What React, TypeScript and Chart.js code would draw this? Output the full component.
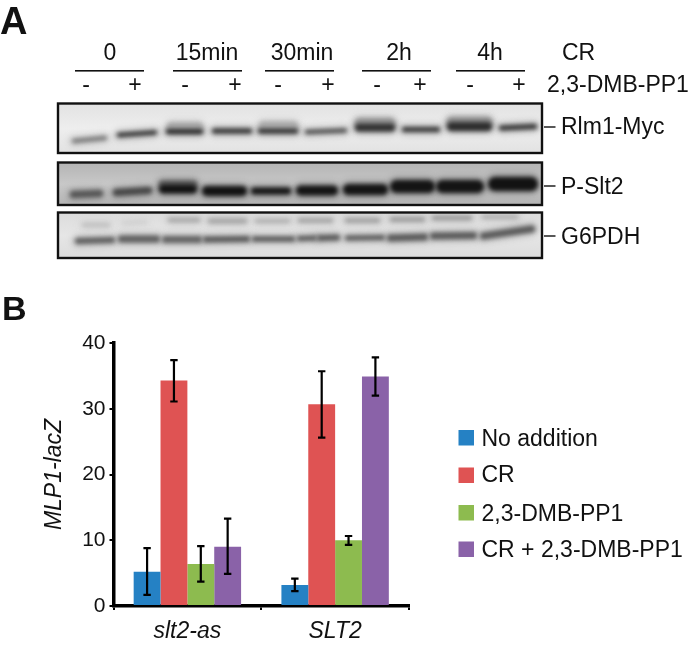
import React, { useEffect, useRef } from "react";
import { Chart, registerables } from "chart.js";

Chart.register(...registerables);

const categories = ["slt2-as", "SLT2"];
const seriesNames = ["No addition", "CR", "2,3-DMB-PP1", "CR + 2,3-DMB-PP1"];
const noAddition = [5.2, 3.2];
const cr = [34.3, 30.7];
const dmb = [6.4, 10.0];
const crDmb = [9.0, 34.9];
const noAdditionErr = [[1.7, 8.8], [2.25, 4.15]];
const crErr = [[31.1, 37.4], [25.6, 35.7]];
const dmbErr = [[3.7, 9.1], [9.3, 10.65]];
const crDmbErr = [[4.9, 13.3], [32.0, 37.8]];
const yTicks = [0, 10, 20, 30, 40];
const timeLabels = ["0", "15min", "30min", "2h", "4h"];
const blotNames = ["Rlm1-Myc", "P-Slt2", "G6PDH"];

const COLORS = ["#2581C4", "#DF5353", "#8DBB4F", "#8A62A8"];
const FONT = '"Liberation Sans", Arial, sans-serif';

// Drawing of the blot panel (figure part A): x0, x1, yLeft, yRight, thickness, grey
type Band = [number, number, number, number, number, number];
const panels: { top: number; bottom: number; bg: string; edge: string; bands: Band[] }[] = [
  {
    top: 104, bottom: 153, bg: "#eeeeee", edge: "#e2e2e2",
    bands: [
      [72, 107, 141, 138, 4, 115],
      [117, 157, 135, 132.5, 4, 40],
      [167, 203, 127, 127, 9, 165],
      [166, 203, 131.5, 131.5, 5, 40],
      [212, 252, 131, 131, 5, 50],
      [259, 298, 126, 126, 9, 170],
      [258, 298, 131, 131, 5, 50],
      [305, 347, 132, 130.5, 4, 70],
      [355, 395, 123, 123, 10, 150],
      [355, 395, 127.5, 127.5, 8, 50],
      [402, 440, 129.5, 129.5, 5, 55],
      [447, 492, 122, 122, 10, 145],
      [447, 492, 126.5, 126.5, 9, 45],
      [499, 537, 128, 126.5, 5, 50],
    ],
  },
  {
    top: 163, bottom: 205, bg: "#c8c8c8", edge: "#b4b4b4",
    bands: [
      [70, 103, 194.5, 193.5, 7, 85],
      [113, 152, 192.5, 190.5, 7, 70],
      [159, 197, 184, 184, 7, 95],
      [159, 197, 189, 189, 9, 18],
      [202, 247, 191, 191, 10, 18],
      [251, 291, 191, 191, 7, 20],
      [296, 338, 190.5, 190.5, 10, 20],
      [343, 388, 189.5, 189.5, 11, 20],
      [390, 435, 186.5, 186.5, 13, 20],
      [436, 484, 186.5, 186.5, 13, 20],
      [488, 538, 184, 184, 14, 18],
    ],
  },
  {
    top: 213, bottom: 258, bg: "#e6e6e6", edge: "#dcdcdc",
    bands: [
      [82, 110, 225, 225, 4, 190],
      [122, 147, 223, 222, 3, 205],
      [168, 200, 220, 220, 4, 165],
      [208, 247, 221, 221, 5, 165],
      [255, 290, 221, 221, 4, 175],
      [298, 333, 220.5, 220.5, 4, 160],
      [345, 380, 220.5, 220.5, 4, 155],
      [390, 425, 219.5, 219.5, 4, 150],
      [432, 472, 218, 218, 4, 150],
      [482, 518, 217, 217, 3, 165],
      [75, 115, 241, 240, 6, 95],
      [118, 160, 239, 239, 7, 95],
      [162, 202, 239.5, 239.5, 7, 100],
      [203, 250, 239.5, 239, 6, 90],
      [252, 295, 239, 239, 5, 85],
      [297, 317, 238.5, 238, 5, 90],
      [317, 340, 238, 237.5, 6, 90],
      [345, 385, 238, 237.5, 5, 90],
      [387, 428, 238, 237, 7, 90],
      [430, 477, 236, 235.5, 7, 90],
      [480, 535, 236, 229, 7, 90],
    ],
  },
];
const PANEL_LEFT = 58;
const PANEL_RIGHT = 542;
const timeCenters = [110, 207, 302, 399, 490];
const timeLines: [number, number][] = [[75, 144], [173, 242], [265, 334], [362, 431], [456, 525]];
const signCenters = [86, 135, 185, 235, 278, 328, 377, 420, 470, 519];
const nameRows: [number, number][] = [[127, 133.5], [186, 194], [236, 244]];

const text = (
  ctx: CanvasRenderingContext2D, s: string, x: number, y: number,
  font: string, align: CanvasTextAlign = "left",
) => {
  ctx.font = font;
  ctx.textAlign = align;
  ctx.textBaseline = "alphabetic";
  ctx.fillStyle = "#111";
  ctx.fillText(s, x, y);
};

const blotPlugin = {
  id: "blot",
  afterDraw(chart: Chart) {
    const ctx = chart.ctx;
    ctx.save();
    text(ctx, "A", 0, 34, `bold 38px ${FONT}`);
    text(ctx, "B", 2, 320, `bold 34px ${FONT}`);
    const f = `23px ${FONT}`;
    timeLabels.forEach((t, i) => {
      text(ctx, t, timeCenters[i], 60, f, "center");
      ctx.fillStyle = "#111";
      ctx.fillRect(timeLines[i][0], 70, timeLines[i][1] - timeLines[i][0], 1.6);
    });
    text(ctx, "CR", 562, 60, f);
    signCenters.forEach((x, i) => text(ctx, i % 2 ? "+" : "-", x, 92, f, "center"));
    text(ctx, "2,3-DMB-PP1", 547, 92, f);

    panels.forEach((p, i) => {
      const w = PANEL_RIGHT - PANEL_LEFT;
      const h = p.bottom - p.top;
      ctx.save();
      ctx.beginPath();
      ctx.rect(PANEL_LEFT, p.top, w, h);
      ctx.clip();
      const grad = ctx.createLinearGradient(0, p.top, 0, p.bottom);
      grad.addColorStop(0, p.edge);
      grad.addColorStop(0.5, p.bg);
      grad.addColorStop(1, p.edge);
      ctx.fillStyle = grad;
      ctx.fillRect(PANEL_LEFT, p.top, w, h);
      ctx.lineCap = "round";
      const stroke = (b: Band, extra: number, alpha: number, blur: number) => {
        const [x0, x1, y0, y1, t, g] = b;
        ctx.filter = `blur(${blur}px)`;
        ctx.globalAlpha = alpha;
        ctx.strokeStyle = `rgb(${g},${g},${g})`;
        ctx.lineWidth = t + extra;
        ctx.beginPath();
        ctx.moveTo(x0 + t / 2, y0);
        ctx.lineTo(x1 - t / 2, y1);
        ctx.stroke();
      };
      p.bands.forEach((b) => stroke(b, 6, 0.28, 3));
      p.bands.forEach((b) => stroke(b, 0, 1, 1.9));
      ctx.restore();
      ctx.strokeStyle = "#111";
      ctx.lineWidth = 2.4;
      ctx.strokeRect(PANEL_LEFT, p.top - 0.5, w, h + 0.5);
      ctx.fillStyle = "#111";
      ctx.fillRect(544, nameRows[i][0] - 0.7, 11.5, 1.4);
      text(ctx, blotNames[i], 561, nameRows[i][1], f);
    });
    ctx.restore();
  },
};

const errorPlugin = {
  id: "errorBars",
  afterDatasetsDraw(chart: Chart) {
    const ctx = chart.ctx;
    const y = chart.scales.y;
    const errs = [noAdditionErr, crErr, dmbErr, crDmbErr];
    ctx.save();
    ctx.strokeStyle = "#000";
    ctx.lineWidth = 2.2;
    errs.forEach((series, d) => {
      const meta = chart.getDatasetMeta(d);
      series.forEach(([lo, hi], i) => {
        const x = meta.data[i].x;
        const yl = y.getPixelForValue(lo);
        const yh = y.getPixelForValue(hi);
        ctx.beginPath();
        ctx.moveTo(x, yl);
        ctx.lineTo(x, yh);
        ctx.moveTo(x - 3.7, yl);
        ctx.lineTo(x + 3.7, yl);
        ctx.moveTo(x - 3.7, yh);
        ctx.lineTo(x + 3.7, yh);
        ctx.stroke();
      });
    });
    ctx.restore();
  },
};

const legendPlugin = {
  id: "sideLegend",
  afterDraw(chart: Chart) {
    const ctx = chart.ctx;
    const swatchTops = [430, 467.5, 505, 541.5];
    const baselines = [445.5, 481.5, 521, 556.5];
    ctx.save();
    chart.data.datasets.forEach((ds, i) => {
      ctx.fillStyle = ds.backgroundColor as string;
      ctx.fillRect(458.5, swatchTops[i], 15.5, 15.5);
      text(ctx, ds.label as string, 481.5, baselines[i], `23px ${FONT}`);
    });
    ctx.restore();
  },
};

export default function App() {
  const ref = useRef<HTMLCanvasElement>(null);
  useEffect(() => {
    document.body.style.margin = "0";
    document.body.style.background = "#fff";
    const values = [noAddition, cr, dmb, crDmb];
    const chart = new Chart(ref.current!, {
      type: "bar",
      data: {
        labels: categories,
        datasets: seriesNames.map((label, i) => ({
          label,
          data: values[i],
          backgroundColor: COLORS[i],
          borderWidth: 0,
          barPercentage: 1,
          categoryPercentage: 0.727,
        })),
      },
      options: {
        animation: false,
        responsive: false,
        devicePixelRatio: 1,
        layout: { padding: { left: 0, right: 281, top: 343, bottom: 0 } },
        plugins: { legend: { display: false }, tooltip: { enabled: false }, title: { display: false } },
        scales: {
          x: {
            afterFit: (s: any) => { s.height = 39; },
            border: { color: "#000", width: 3.5 },
            grid: { drawOnChartArea: false, color: "#000", tickLength: 4, lineWidth: 2, tickColor: "#000" },
            ticks: { color: "#111", padding: 8, font: { family: FONT, size: 23, style: "italic" }, maxRotation: 0 },
          },
          y: {
            min: 0,
            max: 40,
            afterFit: (s: any) => { s.width = 113.5; },
            afterBuildTicks: (s: any) => { s.ticks = yTicks.map((value) => ({ value })); },
            border: { color: "#000", width: 3.5 },
            grid: { drawOnChartArea: false, color: "#000", tickLength: 4, lineWidth: 2, tickColor: "#000" },
            ticks: { color: "#111", padding: 4, font: { family: FONT, size: 21 } },
            title: {
              display: true,
              text: "MLP1-lacZ",
              color: "#111",
              padding: { top: 41, bottom: 0 },
              font: { family: FONT, size: 23, style: "italic" },
            },
          },
        },
      },
      plugins: [errorPlugin, legendPlugin, blotPlugin],
    });
    return () => chart.destroy();
  }, []);
  return <canvas ref={ref} width={690} height={645} style={{ display: "block" }} />;
}
